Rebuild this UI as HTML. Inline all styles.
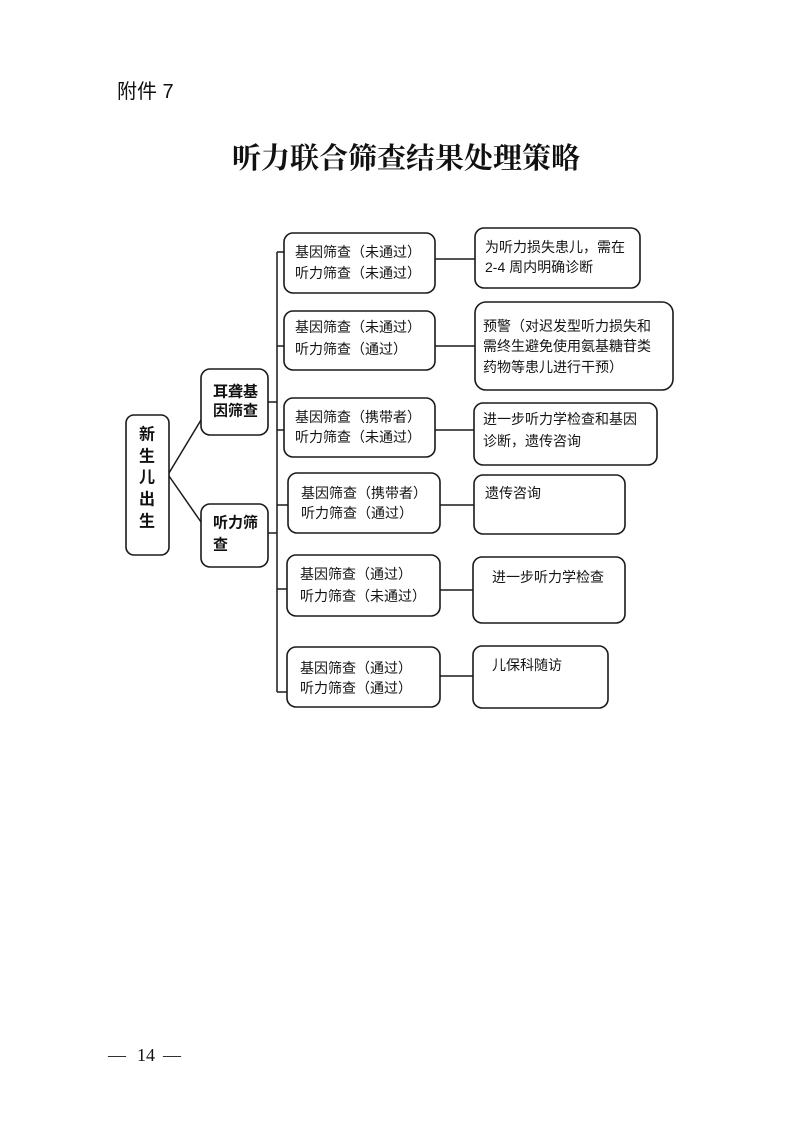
<!DOCTYPE html>
<html><head><meta charset="utf-8"><style>
html,body{margin:0;padding:0;background:#fff;}
svg{display:block;}
.t{font-family:"Liberation Sans","Noto Sans CJK SC",sans-serif;font-size:14px;fill:#141414;dominant-baseline:central;}
.b{font-family:"Liberation Sans","Noto Sans CJK SC",sans-serif;font-weight:bold;fill:#111;dominant-baseline:central;}
.bx{fill:#fff;stroke:#1a1a1a;stroke-width:1.6;}
.ln{stroke:#1a1a1a;stroke-width:1.5;fill:none;}
</style></head><body>
<svg width="795" height="1122" viewBox="0 0 795 1122" xmlns="http://www.w3.org/2000/svg">
<rect width="795" height="1122" fill="#fff"/>
<text x="117" y="92" style="font-family:'Liberation Sans','Noto Sans CJK SC',sans-serif;font-size:20px;fill:#111;dominant-baseline:central;">附件 7</text>
<text x="232" y="159" style="font-family:'Liberation Serif','Noto Serif CJK SC',serif;font-size:29px;font-weight:bold;fill:#111;dominant-baseline:central;">听力联合筛查结果处理策略</text>

<!-- left boxes -->
<rect class="bx" x="126" y="415" width="43" height="140" rx="8"/>
<text class="b" x="147" y="435" text-anchor="middle" font-size="16">新</text>
<text class="b" x="147" y="457" text-anchor="middle" font-size="16">生</text>
<text class="b" x="147" y="478" text-anchor="middle" font-size="16">儿</text>
<text class="b" x="147" y="500" text-anchor="middle" font-size="16">出</text>
<text class="b" x="147" y="522" text-anchor="middle" font-size="16">生</text>

<line class="ln" x1="169" y1="473" x2="201" y2="420"/>
<line class="ln" x1="169" y1="476" x2="201" y2="522"/>

<rect class="bx" x="201" y="369" width="67" height="66" rx="9"/>
<text class="b" x="213" y="392" font-size="15">耳聋基</text>
<text class="b" x="213" y="411" font-size="15">因筛查</text>

<rect class="bx" x="201" y="504" width="67" height="63" rx="9"/>
<text class="b" x="213" y="523" font-size="15">听力筛</text>
<text class="b" x="213" y="545" font-size="15">查</text>

<line class="ln" x1="268" y1="402" x2="277" y2="402"/>
<line class="ln" x1="268" y1="533" x2="277" y2="533"/>

<!-- bus -->
<line class="ln" x1="277" y1="252" x2="277" y2="692"/>
<line class="ln" x1="277" y1="252" x2="284" y2="252"/>
<line class="ln" x1="277" y1="346" x2="284" y2="346"/>
<line class="ln" x1="277" y1="430" x2="284" y2="430"/>
<line class="ln" x1="277" y1="505" x2="288" y2="505"/>
<line class="ln" x1="277" y1="589" x2="287" y2="589"/>
<line class="ln" x1="277" y1="692" x2="287" y2="692"/>

<!-- middle boxes -->
<rect class="bx" x="284" y="233" width="151" height="60" rx="9"/>
<text class="t" x="295" y="252">基因筛查（未通过）</text>
<text class="t" x="295" y="273">听力筛查（未通过）</text>

<rect class="bx" x="284" y="311" width="151" height="59" rx="9"/>
<text class="t" x="295" y="327">基因筛查（未通过）</text>
<text class="t" x="295" y="349">听力筛查（通过）</text>

<rect class="bx" x="284" y="398" width="151" height="59" rx="9"/>
<text class="t" x="295" y="417">基因筛查（携带者）</text>
<text class="t" x="295" y="437">听力筛查（未通过）</text>

<rect class="bx" x="288" y="473" width="152" height="60" rx="9"/>
<text class="t" x="301" y="493">基因筛查（携带者）</text>
<text class="t" x="301" y="513">听力筛查（通过）</text>

<rect class="bx" x="287" y="555" width="153" height="61" rx="9"/>
<text class="t" x="300" y="574">基因筛查（通过）</text>
<text class="t" x="300" y="596">听力筛查（未通过）</text>

<rect class="bx" x="287" y="647" width="153" height="60" rx="9"/>
<text class="t" x="300" y="668">基因筛查（通过）</text>
<text class="t" x="300" y="688">听力筛查（通过）</text>

<!-- right connectors -->
<line class="ln" x1="435" y1="259" x2="475" y2="259"/>
<line class="ln" x1="435" y1="346" x2="475" y2="346"/>
<line class="ln" x1="435" y1="430" x2="474" y2="430"/>
<line class="ln" x1="440" y1="505" x2="474" y2="505"/>
<line class="ln" x1="440" y1="590" x2="473" y2="590"/>
<line class="ln" x1="440" y1="676" x2="473" y2="676"/>

<!-- right boxes -->
<rect class="bx" x="475" y="228" width="165" height="60" rx="9"/>
<text class="t" x="485" y="247">为听力损失患儿，需在</text>
<text class="t" x="485" y="267">2-4 周内明确诊断</text>

<rect class="bx" x="475" y="302" width="198" height="88" rx="11"/>
<text class="t" x="483" y="326">预警（对迟发型听力损失和</text>
<text class="t" x="483" y="346">需终生避免使用氨基糖苷类</text>
<text class="t" x="483" y="367">药物等患儿进行干预）</text>

<rect class="bx" x="474" y="403" width="183" height="62" rx="9"/>
<text class="t" x="483" y="419">进一步听力学检查和基因</text>
<text class="t" x="483" y="441">诊断，遗传咨询</text>

<rect class="bx" x="474" y="475" width="151" height="59" rx="9"/>
<text class="t" x="485" y="493">遗传咨询</text>

<rect class="bx" x="473" y="557" width="152" height="66" rx="9"/>
<text class="t" x="492" y="577">进一步听力学检查</text>

<rect class="bx" x="473" y="646" width="135" height="62" rx="9"/>
<text class="t" x="492" y="665">儿保科随访</text>

<!-- page number -->
<text x="108" y="1055" style="font-family:'Liberation Serif',serif;font-size:18px;fill:#111;dominant-baseline:central;">—</text>
<text x="137" y="1055" style="font-family:'Liberation Serif',serif;font-size:18px;fill:#111;dominant-baseline:central;">14</text>
<text x="163" y="1055" style="font-family:'Liberation Serif',serif;font-size:18px;fill:#111;dominant-baseline:central;">—</text>
</svg>
</body></html>
